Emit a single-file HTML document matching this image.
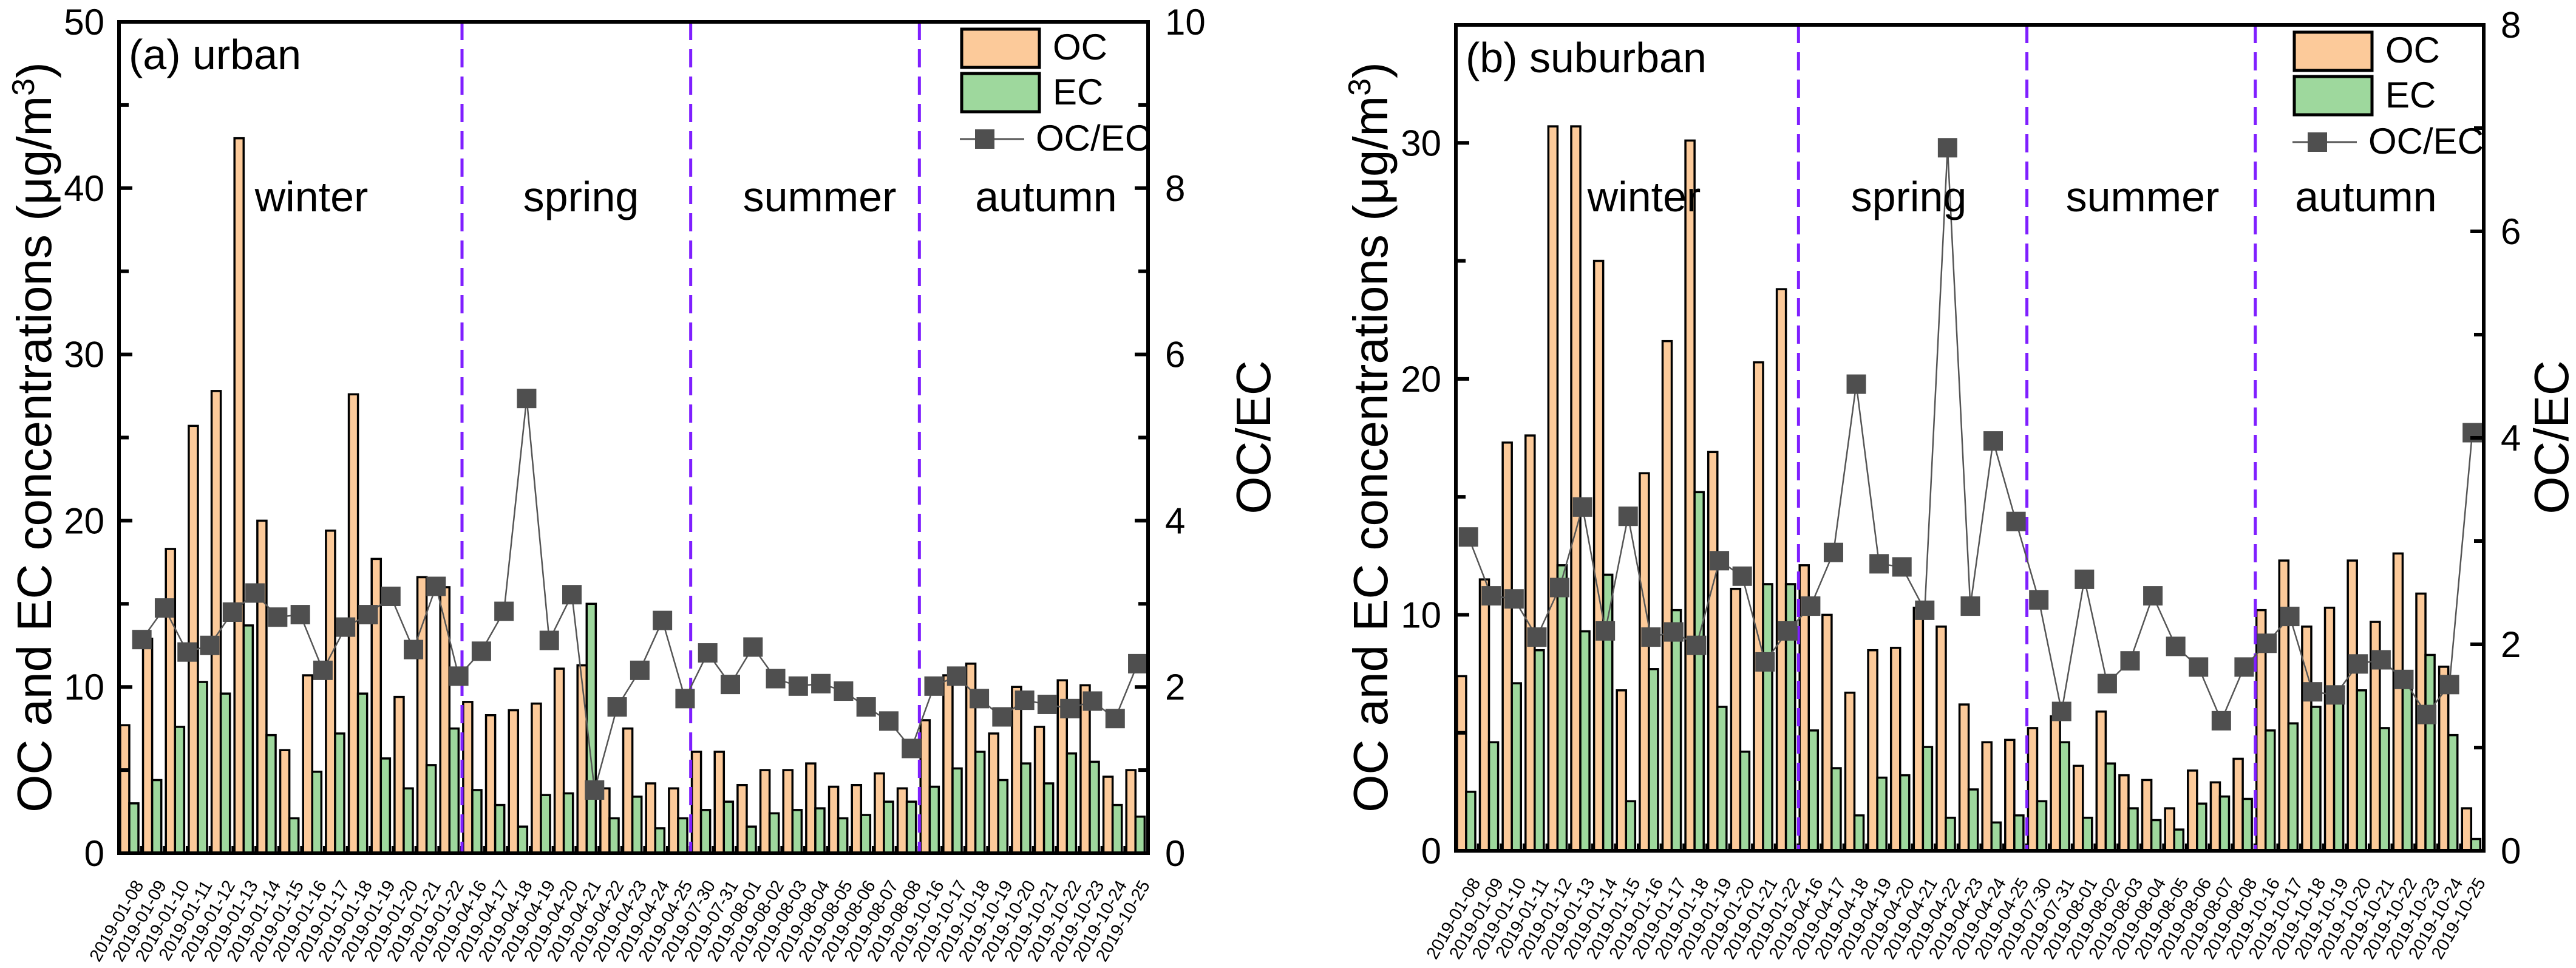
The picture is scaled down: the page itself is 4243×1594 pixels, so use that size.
<!DOCTYPE html>
<html><head><meta charset="utf-8"><style>
html,body{margin:0;padding:0;background:#fff;}
svg{display:block;font-family:"Liberation Sans",Arial,sans-serif;}
</style></head><body>
<svg id="chart" width="4243" height="1594" viewBox="0 0 4243 1594" xmlns="http://www.w3.org/2000/svg"></svg>
<script>
const categories = ["2019-01-08","2019-01-09","2019-01-10","2019-01-11","2019-01-12","2019-01-13","2019-01-14","2019-01-15","2019-01-16","2019-01-17","2019-01-18","2019-01-19","2019-01-20","2019-01-21","2019-01-22","2019-04-16","2019-04-17","2019-04-18","2019-04-19","2019-04-20","2019-04-21","2019-04-22","2019-04-23","2019-04-24","2019-04-25","2019-07-30","2019-07-31","2019-08-01","2019-08-02","2019-08-03","2019-08-04","2019-08-05","2019-08-06","2019-08-07","2019-08-08","2019-10-16","2019-10-17","2019-10-18","2019-10-19","2019-10-20","2019-10-21","2019-10-22","2019-10-23","2019-10-24","2019-10-25"];
const seasons = ["winter","spring","summer","autumn"];
const seasonBreaks = [15,25,35];
const urbanOC = [7.7,12.9,18.3,25.7,27.8,43.0,20.0,6.2,10.7,19.4,27.6,17.7,9.4,16.6,16.0,9.1,8.3,8.6,9.0,11.1,11.3,3.9,7.5,4.2,3.9,6.1,6.1,4.1,5.0,5.0,5.4,4.0,4.1,4.8,3.9,8.0,10.7,11.4,7.2,10.0,7.6,10.4,10.1,4.6,5.0];
const urbanEC = [3.0,4.4,7.6,10.3,9.6,13.7,7.1,2.1,4.9,7.2,9.6,5.7,3.9,5.3,7.5,3.8,2.9,1.6,3.5,3.6,15.0,2.1,3.4,1.5,2.1,2.6,3.1,1.6,2.4,2.6,2.7,2.1,2.3,3.1,3.1,4.0,5.1,6.1,4.4,5.4,4.2,6.0,5.5,2.9,2.2];
const urbanRatio = [2.57,2.95,2.42,2.50,2.90,3.13,2.84,2.87,2.20,2.72,2.87,3.09,2.45,3.21,2.13,2.43,2.91,5.47,2.56,3.11,0.76,1.76,2.20,2.80,1.86,2.41,2.03,2.48,2.10,2.01,2.04,1.95,1.76,1.59,1.26,2.01,2.13,1.86,1.64,1.84,1.79,1.74,1.83,1.62,2.28];
const suburbOC = [7.4,11.5,17.3,17.6,30.7,30.7,25.0,6.8,16.0,21.6,30.1,16.9,11.1,20.7,23.8,12.1,10.0,6.7,8.5,8.6,10.3,9.5,6.2,4.6,4.7,5.2,5.7,3.6,5.9,3.2,3.0,1.8,3.4,2.9,3.9,10.2,12.3,9.5,10.3,12.3,9.7,12.6,10.9,7.8,1.8];
const suburbEC = [2.5,4.6,7.1,8.5,12.1,9.3,11.7,2.1,7.7,10.2,15.2,6.1,4.2,11.3,11.3,5.1,3.5,1.5,3.1,3.2,4.4,1.4,2.6,1.2,1.5,2.1,4.6,1.4,3.7,1.8,1.3,0.9,2.0,2.3,2.2,5.1,5.4,6.1,6.4,6.8,5.2,7.3,8.3,4.9,0.5];
const suburbRatio = [3.04,2.47,2.44,2.07,2.55,3.33,2.13,3.24,2.07,2.12,1.99,2.81,2.66,1.83,2.13,2.37,2.89,4.52,2.78,2.75,2.33,6.81,2.37,3.97,3.19,2.43,1.35,2.63,1.62,1.84,2.47,1.98,1.78,1.26,1.78,2.01,2.27,1.54,1.51,1.81,1.85,1.66,1.32,1.61,4.05];
const urbanLeftTicks = [0,10,20,30,40,50];
const urbanRightTicks = [0,2,4,6,8,10];
const suburbLeftTicks = [0,10,20,30];
const suburbRightTicks = [0,2,4,6,8];

const NS = "http://www.w3.org/2000/svg";
const svg = document.getElementById("chart");
function mk(tag, attrs, parent) {
  const e = document.createElementNS(NS, tag);
  for (const k in attrs) e.setAttribute(k, attrs[k]);
  (parent || svg).appendChild(e);
  return e;
}

function drawPanel(p) {
  const g = mk("g", {});
  
  
  const n = categories.length;
  const step = (p.R - p.L) / n;
  const yL = v => p.B - (v / p.lmax) * (p.B - p.T);
  const yR = v => p.B - (v / p.rmax) * (p.B - p.T);
  const bw = step * 0.40;

  for (let i = 0; i < n; i++) {
    const x0 = p.L + i * step + step * 0.05;
    const oc = mk("rect", {x: x0, y: yL(p.oc[i]), width: bw, height: p.B - yL(p.oc[i]), fill: "#FCCA9A", stroke: "#000", "stroke-width": 3.5}, g);
    
    
    const ec = mk("rect", {x: x0 + bw, y: yL(p.ec[i]), width: bw, height: p.B - yL(p.ec[i]), fill: "#9ED89D", stroke: "#000", "stroke-width": 3.5}, g);
    
    
    const tk = mk("line", {x1: p.L + (i + 1) * step, x2: p.L + (i + 1) * step, y1: p.B, y2: p.B - 12, stroke: "#000", "stroke-width": 6}, g);
    
    
    const lb = mk("text", {x: 0, y: 0, "font-size": 29, "text-anchor": "end", transform: `translate(${p.L + i * step + step * 1.1},${p.B + 52}) rotate(-60)`}, g);
    lb.textContent = categories[i];
    
    
  }

  seasonBreaks.forEach(b => {
    const d = mk("line", {x1: p.L + b * step, x2: p.L + b * step, y1: p.T, y2: p.B, stroke: "#7F1FFF", "stroke-width": 5, "stroke-dasharray": "30 15"}, g);
    
    
  });

  const rx = i => p.L + step * (p.rOff0 + i * (p.rSpan / (n - 1)));
  let dstr = "";
  p.ratio.forEach((v, i) => { dstr += (i ? "L" : "M") + rx(i).toFixed(1) + " " + yR(v).toFixed(1); });
  const ln = mk("path", {d: dstr, fill: "none", stroke: "#555", "stroke-width": 2.5}, g);
  
  
  p.ratio.forEach((v, i) => {
    const m = mk("rect", {x: rx(i) - 16, y: yR(v) - 16, width: 32, height: 32, fill: "#4F4F4F"}, g);
    
    
  });

  const fr = mk("rect", {x: p.L, y: p.T, width: p.R - p.L, height: p.B - p.T, fill: "none", stroke: "#000", "stroke-width": 6}, g);
  
  

  for (let v = 0; v <= p.lmax; v += 5) {
    const major = v % 10 === 0;
    const t = mk("line", {x1: p.L, x2: p.L + (major ? 22 : 16), y1: yL(v), y2: yL(v), stroke: "#000", "stroke-width": 6}, g);
    
    
  }
  p.lt.forEach(v => {
    const t = mk("text", {x: p.L - 24, y: yL(v) + 21, "font-size": 60, "text-anchor": "end"}, g);
    t.textContent = v;
    
    
  });
  for (let v = 0; v <= p.rmax; v += 1) {
    const major = v % 2 === 0;
    const t = mk("line", {x1: p.R, x2: p.R - (major ? 22 : 16), y1: yR(v), y2: yR(v), stroke: "#000", "stroke-width": 6}, g);
    
    
  }
  p.rt.forEach(v => {
    const t = mk("text", {x: p.R + 28, y: yR(v) + 21, "font-size": 60, "text-anchor": "start"}, g);
    t.textContent = v;
    
    
  });

  const lt = mk("text", {x: 0, y: 0, "font-size": 80, "text-anchor": "middle", transform: `translate(${p.ltx},${p.lty}) rotate(-90)`}, g);
  lt.innerHTML = 'OC and EC concentrations (μg/m<tspan dy="-28" font-size="52">3</tspan><tspan dy="28">)</tspan>';
  
  
  const rt = mk("text", {x: 0, y: 0, "font-size": 80, "text-anchor": "middle", transform: `translate(${p.rtx},${p.rty}) rotate(-90)`}, g);
  rt.textContent = "OC/EC";
  
  

  const pl = mk("text", {x: p.L + 16, y: p.T + 78, "font-size": 70}, g);
  pl.textContent = p.label;
  
  

  seasons.forEach((s, k) => {
    const t = mk("text", {x: p.seasonX[k], y: 348, "font-size": 70, "text-anchor": "middle"}, g);
    t.textContent = s;
    
    
  });

  const lg = mk("g", {}, g);
  
  
  const bx = p.legX;
  const r1 = mk("rect", {x: bx, y: p.T + 12, width: 128, height: 63, fill: "#FCCA9A", stroke: "#000", "stroke-width": 5}, lg);
  
  
  const t1 = mk("text", {x: bx + 150, y: p.T + 62, "font-size": 60}, lg);
  t1.textContent = "OC";
  
  
  const r2 = mk("rect", {x: bx, y: p.T + 85, width: 128, height: 63, fill: "#9ED89D", stroke: "#000", "stroke-width": 5}, lg);
  
  
  const t2 = mk("text", {x: bx + 150, y: p.T + 136, "font-size": 60}, lg);
  t2.textContent = "EC";
  
  
  const l3 = mk("line", {x1: bx - 3, x2: bx + 103, y1: p.T + 193, y2: p.T + 193, stroke: "#555", "stroke-width": 3}, lg);
  
  
  const m3 = mk("rect", {x: bx + 22, y: p.T + 177, width: 32, height: 32, fill: "#4F4F4F"}, lg);
  
  
  const t3 = mk("text", {x: bx + 122, y: p.T + 212, "font-size": 60}, lg);
  t3.textContent = "OC/EC";
  
  
}

drawPanel({id: "urban", label: "(a) urban", L: 196, R: 1891, T: 36, B: 1405, lmax: 50, rmax: 10,
  oc: urbanOC, ec: urbanEC, ratio: urbanRatio, lt: urbanLeftTicks, rt: urbanRightTicks,
  rOff0: 1.0, rSpan: 43.55, ltx: 84, lty: 720, rtx: 2092, rty: 720,
  seasonX: [513, 957, 1350, 1723], legX: 1584});
drawPanel({id: "suburban", label: "(b) suburban", L: 2398, R: 4091, T: 41, B: 1401, lmax: 35, rmax: 8,
  oc: suburbOC, ec: suburbEC, ratio: suburbRatio, lt: suburbLeftTicks, rt: suburbRightTicks,
  rOff0: 0.55, rSpan: 43.95, ltx: 2285, lty: 720, rtx: 4230, rty: 720,
  seasonX: [2708, 3144, 3529, 3897], legX: 3779});
</script>
</body></html>
